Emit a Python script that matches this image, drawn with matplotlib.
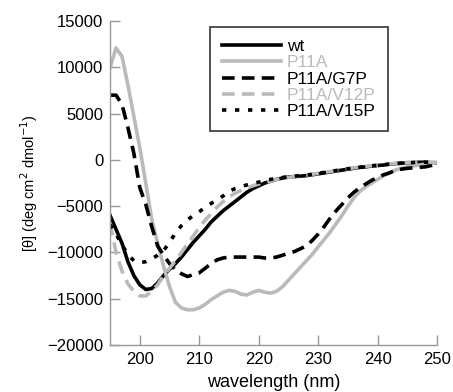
import matplotlib
matplotlib.use("Agg")
import matplotlib.pyplot as plt
import numpy as np

plt.rcParams['font.family'] = ['Liberation Sans', 'DejaVu Sans']

wavelength = list(range(195, 251))

wt = [-6000, -7500, -9000, -11000, -12500, -13500, -14000, -13900, -13300, -12500,
      -11800, -11200, -10500, -9700, -8900, -8200, -7500, -6700, -6100, -5500,
      -5000, -4500, -4000, -3500, -3100, -2800, -2500, -2300, -2100, -1950,
      -1850, -1800, -1750, -1700, -1600, -1500, -1400, -1300, -1200, -1100,
      -1000, -900, -800, -750, -650, -600, -550, -450, -400, -350,
      -300, -300, -250, -250, -300, -300]

p11a = [10000, 12100, 11200, 8100, 4700, 1300, -2500, -6400, -9000, -11500,
        -13700, -15400, -16000, -16200, -16200, -16000, -15600, -15100, -14700, -14300,
        -14100, -14200, -14500, -14600, -14300, -14100, -14300, -14400, -14200, -13700,
        -13000, -12300, -11600, -10900, -10200, -9400, -8600, -7800, -6900, -6000,
        -5000, -4100, -3400, -2900, -2500, -2100, -1700, -1400, -1100, -900,
        -750, -650, -550, -450, -350, -300]

p11a_g7p = [7000, 7000, 6000, 3500, 700, -3000, -4800, -7200, -9300, -10300,
            -11200, -11900, -12300, -12600, -12400, -12200, -11700, -11200, -10800, -10600,
            -10500, -10500, -10500, -10500, -10500, -10500, -10600, -10600, -10500, -10300,
            -10100, -9900, -9600, -9300, -8700, -8000, -7200, -6300, -5500, -4800,
            -4100, -3500, -3000, -2600, -2200, -1900, -1600, -1400, -1100, -1000,
            -900, -850, -800, -750, -600, -400]

p11a_v12p = [-6800, -10000, -12000, -13400, -14200, -14700, -14700, -14200, -13500, -12500,
             -11700, -10900, -10000, -9100, -8200, -7300, -6500, -5800, -5100, -4500,
             -4000, -3600, -3300, -3000, -2800, -2600, -2500, -2300, -2100, -2000,
             -1900, -1800, -1700, -1650, -1550, -1450, -1350, -1250, -1150, -1050,
             -950, -850, -780, -700, -620, -560, -500, -430, -380, -330,
             -290, -270, -240, -230, -260, -280]

p11a_v15p = [-7000, -8000, -9200, -10200, -10900, -11100, -11000, -10700, -10300, -9800,
             -8900, -7900, -7100, -6500, -6000, -5600, -5100, -4700, -4300, -3900,
             -3400, -3100, -2900, -2700, -2550, -2400, -2250, -2100, -2000, -1900,
             -1800, -1750, -1700, -1650, -1550, -1450, -1350, -1250, -1150, -1050,
             -950, -880, -800, -720, -650, -580, -520, -450, -400, -350,
             -300, -280, -250, -240, -270, -300]

labels = ['wt', 'P11A', 'P11A/G7P', 'P11A/V12P', 'P11A/V15P']

GRAY = '#bababa'

fig = plt.figure(figsize=(4.53, 3.92), dpi=100)
ax = fig.add_axes([0.243, 0.120, 0.722, 0.826])

lw = 2.6
ax.plot(wavelength, wt, color='black', lw=lw, label=labels[0])
ax.plot(wavelength, p11a, color=GRAY, lw=lw, label=labels[1])
ax.plot(wavelength, p11a_g7p, color='black', lw=lw, dashes=(3.5, 2.0), label=labels[2])
ax.plot(wavelength, p11a_v12p, color=GRAY, lw=lw, dashes=(3.5, 2.0), label=labels[3])
ax.plot(wavelength, p11a_v15p, color='black', lw=lw, dashes=(1.2, 2.4), label=labels[4])

ax.set_xlim(195, 250)
ax.set_ylim(-20000, 15000)
ax.set_xticks([200, 210, 220, 230, 240, 250])
ax.set_yticks([-20000, -15000, -10000, -5000, 0, 5000, 10000, 15000])

for s in ['top', 'right']:
    ax.spines[s].set_visible(False)
for s in ['left', 'bottom']:
    ax.spines[s].set_color('#999999')
    ax.spines[s].set_linewidth(1.0)
ax.tick_params(direction='in', length=7, width=1.0, color='#999999',
               labelsize=12, pad=5)

ax.set_xlabel('wavelength (nm)', fontsize=13, labelpad=5)
ax.set_ylabel('[θ] (deg cm$^{2}$ dmol$^{-1}$)', fontsize=10.5, labelpad=5)

leg = ax.legend(loc='upper left', bbox_to_anchor=(0.306, 0.982), borderaxespad=0,
                fontsize=12.5, handlelength=3.4, handletextpad=0.3, labelspacing=0.06,
                fancybox=False, frameon=True, borderpad=0.7)
leg.get_frame().set_edgecolor('black')
leg.get_frame().set_linewidth(1.2)
for txt, c in zip(leg.get_texts(), ['black', GRAY, 'black', GRAY, 'black']):
    txt.set_color(c)

fig.savefig('out.png', dpi=100)
